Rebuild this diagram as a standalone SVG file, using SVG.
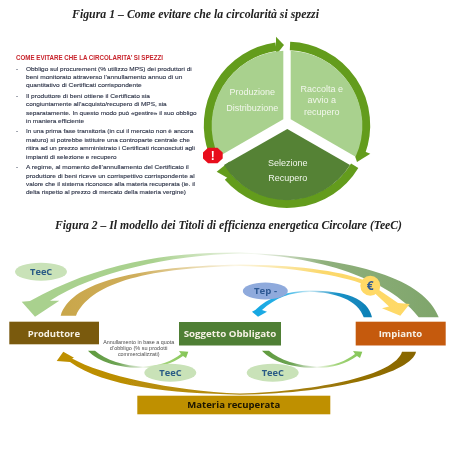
<svg xmlns="http://www.w3.org/2000/svg" width="467" height="451" viewBox="0 0 467 451">
<style>
.cap{font-family:"Liberation Serif",serif;font-style:italic;font-weight:700;font-size:11.5px;fill:#222}
.b{font-family:"Liberation Sans",sans-serif;font-size:6.2px;fill:#2c3347;stroke:#2c3347;stroke-width:.12px}
.h{font-family:"Liberation Sans",sans-serif;font-size:6.4px;font-weight:700;fill:#c8242c}
.c{font-family:"Liberation Sans",sans-serif;font-size:9px;fill:#f2f7ec;text-anchor:middle}
.n{font-family:"Open Sans",sans-serif;font-size:9px;font-weight:700;fill:#f6f1e4}
.t{font-family:"Open Sans",sans-serif;font-size:8.5px;font-weight:700;fill:#2b5c86}
.s{font-family:"Liberation Sans",sans-serif;font-size:5.2px;fill:#4a4a4a;text-anchor:middle}
.ring{fill:none;stroke:#649c1c;stroke-width:8.5}
.hd{fill:#649c1c}
.tee{fill:#c9e2b8}
</style>
<defs>
<filter id="soft" x="-5%" y="-5%" width="110%" height="110%"><feGaussianBlur stdDeviation="0.4"/></filter>
<linearGradient id="gBig" gradientUnits="userSpaceOnUse" x1="30" y1="0" x2="438" y2="0"><stop offset="0" stop-color="#a9d18e"/><stop offset="0.3" stop-color="#a9d18e"/><stop offset="0.55" stop-color="#f4f8f0"/><stop offset="0.72" stop-color="#8fb07c"/><stop offset="1" stop-color="#7fa56b"/></linearGradient>
<linearGradient id="gTan" gradientUnits="userSpaceOnUse" x1="60" y1="0" x2="410" y2="0"><stop offset="0" stop-color="#c9a64a"/><stop offset="0.22" stop-color="#cfae5c"/><stop offset="0.5" stop-color="#fbf6e4"/><stop offset="0.75" stop-color="#fbd86c"/><stop offset="1" stop-color="#ffd966"/></linearGradient>
<linearGradient id="gBlue" gradientUnits="userSpaceOnUse" x1="252" y1="0" x2="372" y2="0"><stop offset="0" stop-color="#12a6e2"/><stop offset="0.28" stop-color="#2fb2e6"/><stop offset="0.48" stop-color="#cdeaf5"/><stop offset="0.7" stop-color="#1b93c8"/><stop offset="1" stop-color="#0e7fb5"/></linearGradient>
<linearGradient id="gSmall" gradientUnits="userSpaceOnUse" x1="88" y1="0" x2="188" y2="0"><stop offset="0" stop-color="#5f9a3c"/><stop offset="0.3" stop-color="#6ea455"/><stop offset="0.55" stop-color="#f2f7ee"/><stop offset="0.75" stop-color="#a3d47a"/><stop offset="1" stop-color="#84c556"/></linearGradient>
<linearGradient id="gGold" gradientUnits="userSpaceOnUse" x1="57" y1="0" x2="416" y2="0"><stop offset="0" stop-color="#bf9000"/><stop offset="0.5" stop-color="#b28a10"/><stop offset="1" stop-color="#876500"/></linearGradient>
</defs>
<rect width="467" height="451" fill="#fff"/>
<g filter="url(#soft)">
<text class="cap" x="72" y="17.5" textLength="247" lengthAdjust="spacingAndGlyphs">Figura 1 – Come evitare che la circolarità si spezzi</text>
<text class="cap" x="55" y="229" textLength="347" lengthAdjust="spacingAndGlyphs">Figura 2 – Il modello dei Titoli di efficienza energetica Circolare (TeeC)</text>

<g id="panel-testo">
<text class="h" x="16" y="59.5" textLength="147" lengthAdjust="spacingAndGlyphs">COME EVITARE CHE LA CIRCOLARITA’ SI SPEZZI</text>
<text class="b" x="16" y="70.5">-</text>
<text class="b" x="16" y="97.5">-</text>
<text class="b" x="16" y="133">-</text>
<text class="b" x="16" y="169">-</text>
<text class="b" x="26" y="70.7" textLength="165.7" lengthAdjust="spacingAndGlyphs">Obbligo sul procurement (% utilizzo MPS) dei produttori di</text>
<text class="b" x="26" y="79" textLength="156.3" lengthAdjust="spacingAndGlyphs">beni monitorato attraverso l’annullamento annuo di un</text>
<text class="b" x="26" y="87.3" textLength="115.7" lengthAdjust="spacingAndGlyphs">quantitativo di Certificati corrispondente</text>
<text class="b" x="26" y="97.7" textLength="124" lengthAdjust="spacingAndGlyphs">Il produttore di beni ottiene il Certificato sia</text>
<text class="b" x="26" y="106" textLength="140.7" lengthAdjust="spacingAndGlyphs">congiuntamente all’acquisto/recupero di MPS, sia</text>
<text class="b" x="26" y="114.6" textLength="170.7" lengthAdjust="spacingAndGlyphs">separatamente. In questo modo può «gestire» il suo obbligo</text>
<text class="b" x="26" y="123" textLength="58" lengthAdjust="spacingAndGlyphs">in maniera efficiente</text>
<text class="b" x="26" y="133.3" textLength="167.3" lengthAdjust="spacingAndGlyphs">In una prima fase transitoria (in cui il mercato non è ancora</text>
<text class="b" x="26" y="142" textLength="164" lengthAdjust="spacingAndGlyphs">maturo) si potrebbe istituire una controparte centrale che</text>
<text class="b" x="26" y="150.3" textLength="169" lengthAdjust="spacingAndGlyphs">ritira ad un prezzo amministrato i Certificati riconosciuti agli</text>
<text class="b" x="26" y="158.8" textLength="90.7" lengthAdjust="spacingAndGlyphs">impianti di selezione e recupero</text>
<text class="b" x="26" y="169" textLength="162.7" lengthAdjust="spacingAndGlyphs">A regime, al momento dell’annullamento del Certificato il</text>
<text class="b" x="26" y="177.7" textLength="168.7" lengthAdjust="spacingAndGlyphs">produttore di beni riceve un corrispettivo corrispondente al</text>
<text class="b" x="26" y="186" textLength="169" lengthAdjust="spacingAndGlyphs">valore che il sistema riconosce alla materia recuperata (ie. il</text>
<text class="b" x="26" y="194.2" textLength="160" lengthAdjust="spacingAndGlyphs">delta rispetto al prezzo di mercato della materia vergine)</text>
</g>

<g id="ciclo-frecce">
<path class="ring" d="M212.8 152A79 79 0 0 1 276 46.8"/>
<path class="hd" d="M276 36.7L284 45L276 55Z"/>
<path class="ring" d="M290 46.1A79 79 0 0 1 361.2 152"/>
<path class="hd" d="M351.7 146.3L370.3 153.7L357 162Z"/>
<path class="ring" d="M354.7 165.7A79 79 0 0 1 228 177"/>
<path class="hd" d="M216.7 171.7L229.5 161.5L233 181Z"/>
</g>
<g id="nodo-produzione">
<path fill="#a9d18e" d="M283.3 119.3V50.7A75 75 0 0 0 218.4 156.8Z"/>
<text class="c" x="252.3" y="95.3">Produzione</text>
<text class="c" x="252.3" y="110.7">Distribuzione</text>
</g>
<g id="nodo-raccolta">
<path fill="#a9d18e" d="M290.7 119.3V50.7A75 75 0 0 1 355.6 156.8Z"/>
<text class="c" x="321.7" y="92">Raccolta e</text>
<text class="c" x="321.7" y="103.4">avvio a</text>
<text class="c" x="321.7" y="114.8">recupero</text>
</g>
<g id="nodo-selezione">
<path fill="#548235" d="M287.3 129L350 165A74 74 0 0 1 224 165Z"/>
<text class="c" x="287.7" y="166">Selezione</text>
<text class="c" x="287.7" y="181">Recupero</text>
</g>
<g id="alert">
<path fill="#e8101c" d="M208 147.7H217.5L222.7 152.5V158.5L217.5 163.3H208L203 158.5V152.5Z"/>
<text x="212.7" y="159.6" text-anchor="middle" font-family="Liberation Sans,sans-serif" font-size="12" font-weight="700" fill="#fff">!</text>
</g>

<g id="connettori">
<path fill="url(#gBig)" d="M438.7 317.3C425 280 360 258 240 252.5C170 252 100 262 30 301L21.7 301.7L35 316.7L59.3 300.7L50 300.7C95 272 170 255 240 253.5C330 256 395 285 418.7 317.3Z"/>
<path fill="url(#gTan)" d="M60.7 315.7C70 285 125 267 240 264.5C290 265 340 270 366 281L398 303L409.7 304L400.3 315.7L382 308.3L389 306.5L366 285C340 275 290 267 240 266C140 268 90 285 76 315.7Z"/>
<path fill="url(#gBlue)" d="M363.7 317.3C358 300 335 292 310 292C290 292 275 298 262 310L267 311.7L258 316.7L252 311.7L255.3 310C268 297 288 291 310 290.5C345 291 368 298 372 317.3Z"/>
<path id="cong-1" fill="url(#gSmall)" d="M88 350.7L95 350.7C105 360 125 366 143 366.5C160 366 172 361 181 354L179 351L188.3 351.7L186 358L183 356C172 364 158 368 143 368C120 368 98 362 88 350.7Z"/>
<path fill="url(#gSmall)" transform="translate(174 0)" d="M88 350.7L95 350.7C105 360 125 366 143 366.5C160 366 172 361 181 354L179 351L188.3 351.7L186 358L183 356C172 364 158 368 143 368C120 368 98 362 88 350.7Z"/>
<path fill="url(#gGold)" d="M416 351.7C412 372 340 393 240 394.7C170 393 105 387 70 362L56.7 361L63.3 351.7L74 357.7L72 358.5C102 375 170 391 240 393.5C320 391 395 375 402 351.7Z"/>
</g>

<g id="nodo-produttore">
<rect x="9.3" y="321.7" width="89.7" height="22.6" fill="#7a5a0a"/>
<text class="n" x="27.7" y="336.7" textLength="52.3" lengthAdjust="spacingAndGlyphs">Produttore</text>
</g>
<g id="nodo-soggetto">
<rect x="179" y="322" width="102" height="23.5" fill="#4f7f35"/>
<text class="n" x="183.7" y="336.7" textLength="92.6" lengthAdjust="spacingAndGlyphs">Soggetto Obbligato</text>
</g>
<g id="nodo-impianto">
<rect x="355.7" y="321.7" width="90" height="23.8" fill="#c55a11"/>
<text class="n" x="378.7" y="336.7" textLength="43.6" lengthAdjust="spacingAndGlyphs">Impianto</text>
</g>
<g id="nodo-materia">
<rect x="137.3" y="395.7" width="193" height="18.6" fill="#bf9000"/>
<text class="n" style="fill:#1a1405" x="187.3" y="408" textLength="93" lengthAdjust="spacingAndGlyphs">Materia recuperata</text>
</g>
<g id="tee-1"><ellipse class="tee" cx="41" cy="271.7" rx="26" ry="9"/><text class="t" x="30" y="275" textLength="22.3" lengthAdjust="spacingAndGlyphs">TeeC</text></g>
<g id="tee-2"><ellipse class="tee" cx="170.3" cy="372.7" rx="26" ry="9"/><text class="t" x="159.3" y="376" textLength="22.3" lengthAdjust="spacingAndGlyphs">TeeC</text></g>
<g id="tee-3"><ellipse class="tee" cx="272.7" cy="372.7" rx="26" ry="9"/><text class="t" x="261.7" y="376" textLength="22.3" lengthAdjust="spacingAndGlyphs">TeeC</text></g>
<g id="tep"><ellipse cx="265.3" cy="291" rx="22.5" ry="8.5" fill="#8faadc"/><text class="t" x="254" y="294.3" style="fill:#2f5a94" textLength="23" lengthAdjust="spacingAndGlyphs">Tep -</text></g>
<g id="euro"><circle cx="370.3" cy="285.7" r="10" fill="#ffd966"/><text x="370.3" y="290" text-anchor="middle" font-family="Open Sans,sans-serif" font-size="12" font-weight="700" fill="#2f5a94">€</text></g>
<g id="nota">
<text class="s" x="138.7" y="343.5" textLength="71" lengthAdjust="spacingAndGlyphs">Annullamento in base a quota</text>
<text class="s" x="138.7" y="349.5" textLength="57.7" lengthAdjust="spacingAndGlyphs">d’obbligo (% su prodotti</text>
<text class="s" x="138.7" y="355.5" textLength="41.6" lengthAdjust="spacingAndGlyphs">commercializzati)</text>
</g>
</g>
</svg>
